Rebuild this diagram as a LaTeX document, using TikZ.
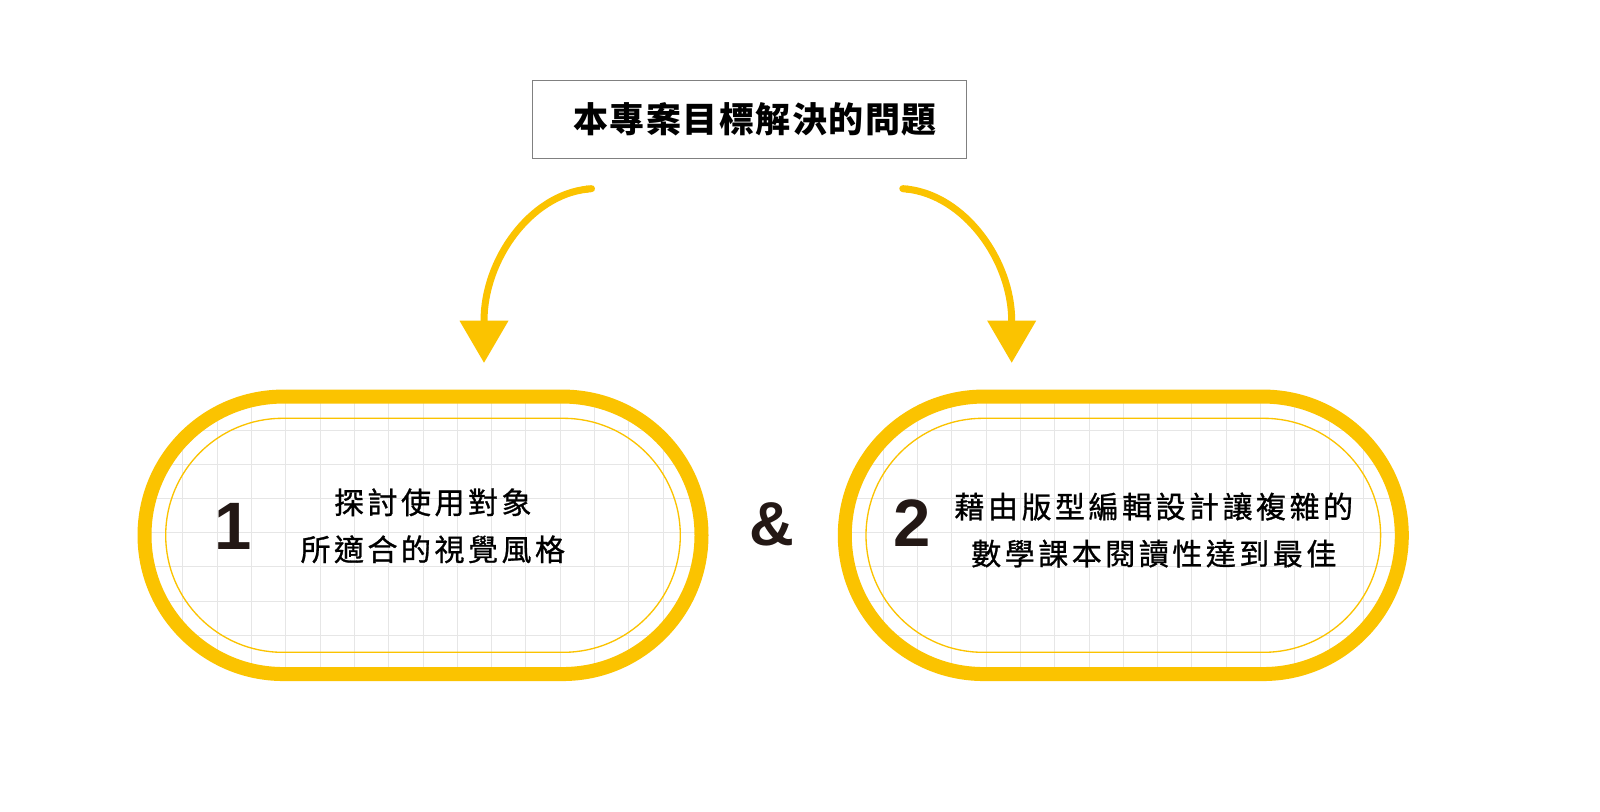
\documentclass[tikz,border=0pt]{standalone}
\usepackage{fontspec}
\setmainfont{Liberation Sans}
\newfontfamily\cjkbody{Noto Sans CJK TC}[LetterSpace=11.7,FakeBold=0.9]
\newfontfamily\cjktitle{Noto Sans CJK TC}[LetterSpace=4.3]
\usetikzlibrary{arrows.meta,shapes.misc}
\definecolor{gold}{HTML}{FBC300}
\definecolor{inkc}{HTML}{231815}
\definecolor{gridgray}{HTML}{E6E6E6}
\definecolor{boxgray}{HTML}{808080}
\tikzset{
  ring/.style={rounded rectangle, draw=gold, line width=10.5pt, minimum width=417.75pt, minimum height=208.1pt, inner sep=0pt},
  innerring/.style={rounded rectangle, draw=gold, line width=1pt, minimum width=385.95pt, minimum height=175.5pt, inner sep=0pt},
  gridline/.style={draw=gridgray, line width=0.75pt},
  bignum/.style={font=\fontsize{50.3}{50.3}\selectfont\bfseries, text=inkc, inner sep=0pt},
  ampstyle/.style={font=\fontsize{46.5}{46.5}\selectfont\bfseries, text=inkc, inner sep=0pt},
  bodytext/.style={font=\cjkbody\fontsize{22.5}{35.25}\selectfont, align=center, inner sep=0pt, text=black},
  arrowline/.style={draw=gold, line width=5.25pt, {Round Cap[]}-{Triangle[width=36.75pt,length=31.5pt,line width=0pt]}},
  titlebox/.style={draw=boxgray, line width=0.75pt, minimum width=325.8pt, minimum height=58.2pt, inner sep=0pt, font=\cjktitle\bfseries\fontsize{26.25}{30}\selectfont}
}
\begin{document}
\begin{tikzpicture}[x=0.75pt,y=-0.75pt]
\fill[white] (0,0) rectangle (1600,811);
\useasboundingbox (0,0) rectangle (1600,811);
% grids
\foreach \cx in {423,1123.3}{
  \begin{scope}
    \clip[rounded corners=104.06pt] ({\cx-278.6},396.5) rectangle ({\cx+278.6},674);
    \foreach \k in {-9,...,9}
      \draw[gridline] ({\cx+34.3*\k},380) -- ({\cx+34.3*\k},690);
    \foreach \k in {-5,...,5}
      \draw[gridline] ({\cx-300},{532.7+34.2*\k}) -- ({\cx+300},{532.7+34.2*\k});
  \end{scope}
}
% pills
\node[ring] (pill1) at (423,535.3) {};
\node[innerring] (pill1in) at (423,535.3) {};
\node[ring] (pill2) at (1123.3,535.3) {};
\node[innerring] (pill2in) at (1123.3,535.3) {};
% title
\node[titlebox] (title) at (749.5,119.5) {\hspace{8.5pt}本專案目標解決的問題};
% arrows
\coordinate (a1s) at (595,188.3);
\coordinate (a1e) at (484,362.7);
\coordinate (a2s) at (899.3,188.3);
\coordinate (a2e) at (1011.7,362.7);
\draw[arrowline] (a1s) .. controls (530,195) and (484,260) .. (484,321) -- (a1e);
\draw[arrowline] (a2s) .. controls (964.3,195) and (1011.7,260) .. (1011.7,321) -- (a2e);
% texts
\node[bignum] (n1) at (233.5,526) {1};
\node[bignum] (n2) at (912.5,523.3) {2};
\node[ampstyle] (amp) at (771.7,524) {\&};
\node[bodytext] (t1) at (432.8,525.8) {探討使用對象\\所適合的視覺風格};
\node[bodytext] (t2) at (1153.8,530) {藉由版型編輯設計讓複雜的\\數學課本閱讀性達到最佳};
\end{tikzpicture}
\end{document}
